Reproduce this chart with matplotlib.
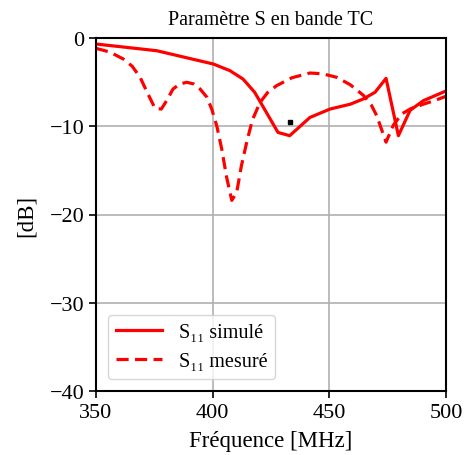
import numpy as np
import matplotlib.pyplot as plt

plt.rcParams['font.family'] = ['Liberation Serif', 'DejaVu Serif']

# S11 simulé
f_sim = [350, 376, 400.3, 407.4, 413, 418, 428, 433, 441.7, 450.3, 459, 464.6,
         469.6, 474.3, 479.6, 484.6, 490.3, 500]
s_sim = [-0.68, -1.44, -2.95, -3.7, -4.65, -6.15, -10.7, -11.07, -9.0, -8.05,
         -7.5, -6.9, -6.15, -4.57, -11.07, -8.2, -7.1, -6.0]

# S11 mesuré
f_mes = [350, 356, 361.7, 365.5, 368.9, 372, 375.3, 378, 380.5, 383, 386, 388.9,
         391.8, 394.6, 397.5, 399.6, 401.8, 403.9, 406, 408.2, 410.3, 412.3,
         414.6, 417, 420.3, 423.5, 427.4, 434, 441.7, 447, 453.1, 459, 464.6,
         468, 470.3, 474.3, 477.4, 481, 485, 490.3, 495, 500]
s_mes = [-1.17, -1.6, -2.38, -3.2, -4.45, -6.2, -7.97, -8.05, -7.0, -5.78, -5.2,
         -5.02, -5.2, -5.78, -6.7, -8.05, -10.0, -12.6, -15.8, -18.4, -17.5,
         -14.5, -11.8, -9.3, -7.3, -6.2, -5.4, -4.5, -3.97, -4.05, -4.45, -5.3,
         -6.5, -7.6, -8.8, -11.8, -9.9, -8.6, -8.0, -7.5, -7.1, -6.6]

# small marker
f_pt = [433]
s_pt = [-9.5]

fig = plt.figure(figsize=(4.65, 4.56), dpi=100)
ax = fig.add_axes([96 / 465, 1 - 392 / 456, 350 / 465, 353 / 456])

ax.plot(f_sim, s_sim, color='red', lw=2.3, label='S₁₁ simulé')
ax.plot(f_mes, s_mes, color='red', lw=2.3, ls='--', dashes=(3.8, 2.0),
        label='S₁₁ mesuré')
ax.plot(f_pt, s_pt, 's', color='black', ms=2.2)

ax.set_xlim(350, 500)
ax.set_ylim(-40, 0)
ax.set_xticks([350, 400, 450, 500])
ax.set_yticks([0, -10, -20, -30, -40])
ax.grid(True, color='#b0b0b0', lw=1.2)
ax.tick_params(labelsize=16, width=1.2, length=5)
for s in ax.spines.values():
    s.set_linewidth(1.5)

ax.set_title('Paramètre S en bande TC', fontsize=14.5, pad=10)
ax.set_xlabel('Fréquence [MHz]', fontsize=16.5, labelpad=6)
ax.set_ylabel('[dB]', fontsize=16.5, labelpad=9)
ax.legend(loc='lower left', fontsize=14.5, handlelength=2.3,
          borderaxespad=0.6)

fig.savefig('out.png', dpi=100)
